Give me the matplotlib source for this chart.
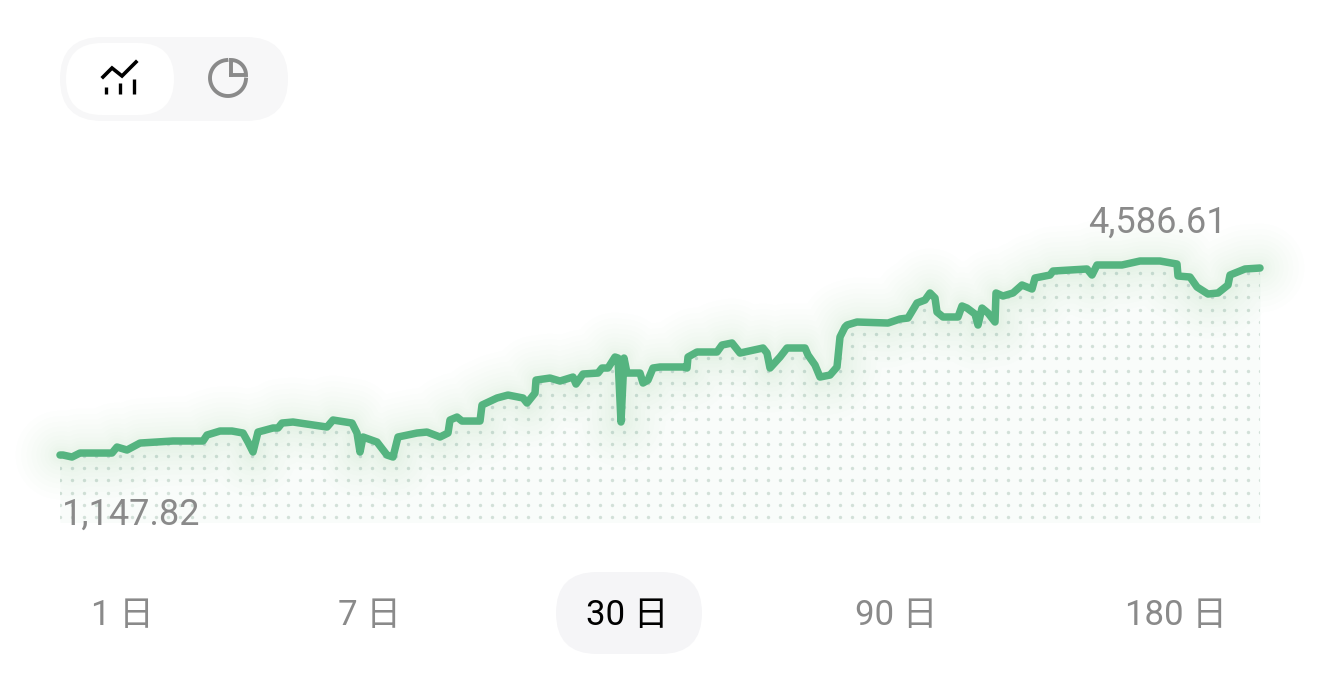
import numpy as np
import matplotlib
matplotlib.use('Agg')
import matplotlib.pyplot as plt
from matplotlib.patches import FancyBboxPatch

plt.rcParams['font.family'] = ['Roboto', 'Noto Sans CJK SC', 'DejaVu Sans']

# time in 1/40 of a day over the 30 day range, value in account currency
time_steps = [0, 3, 12, 20, 52, 57, 67, 80, 113, 143, 147, 160, 172, 183, 188, 193, 198, 213, 218, 222,
              233, 267, 273, 292, 297, 300, 303, 317, 327, 333, 338, 357, 367, 380, 388, 390, 397, 402, 420, 422,
              437, 448, 463, 467, 475, 476, 490, 500, 513, 516, 523, 538, 542, 548, 555, 558, 561, 564, 567, 580,
              583, 588, 593, 600, 623, 627, 628, 637, 657, 662, 672, 680, 703, 707, 710, 720, 727, 745, 748, 755,
              760, 770, 777, 780, 785, 787, 797, 828, 840, 848, 857, 865, 870, 875, 877, 883, 898, 902, 907, 915,
              918, 922, 928, 935, 936, 943, 953, 962, 972, 975, 990, 993, 1027, 1032, 1037, 1062, 1080, 1100, 1117, 1118,
              1130, 1137, 1148, 1158, 1168, 1170, 1185, 1200]
values = [1183, 1183, 1148, 1218, 1218, 1323, 1271, 1393, 1429, 1429, 1534, 1604, 1604, 1569, 1411, 1236, 1586, 1657, 1657, 1744,
          1762, 1674, 1797, 1744, 1569, 1236, 1499, 1411, 1183, 1148, 1499, 1569, 1586, 1499, 1569, 1797, 1849, 1779, 1779, 2060,
          2183, 2235, 2183, 2095, 2270, 2498, 2533, 2481, 2551, 2428, 2604, 2621, 2709, 2709, 2902, 2884, 1762, 2884, 2621, 2621,
          2446, 2498, 2709, 2727, 2727, 2709, 2902, 2990, 2990, 3112, 3148, 2972, 3060, 2972, 2709, 2902, 3060, 3060, 2937, 2762,
          2551, 2586, 2727, 3253, 3428, 3463, 3516, 3498, 3569, 3586, 3849, 3902, 4025, 3937, 3691, 3604, 3604, 3797, 3761, 3656,
          3463, 3761, 3674, 3516, 4025, 3972, 4025, 4165, 4095, 4288, 4340, 4410, 4446, 4340, 4516, 4516, 4586, 4586, 4533, 4323,
          4305, 4130, 4007, 4025, 4165, 4340, 4446, 4463]

min_label = '1,147.82'
max_label = '4,586.61'
ranges = ['1 日', '7 日', '30 日', '90 日', '180 日']
range_x = [122, 369, 627, 896, 1176]
active_range = '30 日'

GREEN = '#55b480'
GREY = '#8a8a8a'
PILL = '#f5f5f7'

fig = plt.figure(figsize=(13.2, 6.75), dpi=100, facecolor='white')

# page layer in pixels for the buttons
page = fig.add_axes([0, 0, 1, 1], zorder=0)
page.set_xlim(0, 1320)
page.set_ylim(675, 0)
page.axis('off')

def pill(x0, y0, x1, y1, color):
    r = (y1 - y0) / 2
    page.add_patch(FancyBboxPatch((x0 + r, y0 + r), x1 - x0 - 2 * r, y1 - y0 - 2 * r,
                                  boxstyle='round,pad=%f,rounding_size=%f' % (r, r),
                                  fc=color, ec='none'))

pill(60, 37, 288, 121, '#f7f7f8')
pill(66, 43, 174, 115, 'white')
pill(556, 572, 702, 654, PILL)

# line chart icon
page.plot([103, 112, 122, 136], [77, 68, 76, 62], color='black', lw=2.6, solid_joinstyle='miter')
for bx, top in [(106, 87), (120, 83), (134, 79)]:
    page.plot([bx, bx], [top, 94], color='black', lw=2.4, solid_capstyle='butt')

# pie icon
a = np.radians(np.linspace(95, 355, 60))
page.plot(228 + 18 * np.cos(a), 78 - 18 * np.sin(a), color=GREY, lw=2.8)
a = np.radians(np.linspace(0, 90, 20))
page.plot(np.r_[231, 231 + 15 * np.cos(a), 231], np.r_[75, 75 - 15 * np.sin(a), 75],
          color=GREY, lw=2.8, solid_joinstyle='miter')

for x, label in zip(range_x, ranges):
    page.text(x, 615, label, ha='center', va='center', fontsize=25,
              color='black' if label == active_range else GREY,
              family=['Roboto', 'Noto Sans CJK SC'])

# chart layer
ax = fig.add_axes([60 / 1320, 145 / 675, 1202 / 1320, 330 / 675], zorder=1)
ax.patch.set_alpha(0)
ax.set_xlim(0, 1202)
ax.set_ylim(-132, 5656)
ax.axis('off')

# faint tint and dots under the line
under = ax.fill_between(time_steps, values, 0, color=GREEN, alpha=0.035, lw=0)
clip = under.get_paths()[0]
gx, gy = np.meshgrid(np.arange(0, 1202, 12), np.arange(95, 5000, 214))
dots = ax.scatter(gx.ravel(), gy.ravel(), s=6, color='#d2e0d8', lw=0)
dots.set_clip_path(clip, transform=ax.transData)

# glow round the line
for w in [64, 56, 48, 41, 34, 28, 22, 17, 13, 10]:
    ax.plot(time_steps, values, color=GREEN, lw=w, alpha=0.012, clip_on=False,
            solid_joinstyle='round', solid_capstyle='round')

ax.plot(time_steps, values, color=GREEN, lw=5.4, clip_on=False,
        solid_joinstyle='round', solid_capstyle='round')

ax.text(2, 130, min_label, ha='left', va='center', fontsize=26, color=GREY)
ax.text(1097, 5250, max_label, ha='center', va='center', fontsize=26, color=GREY)

fig.savefig('out.png', dpi=100)
